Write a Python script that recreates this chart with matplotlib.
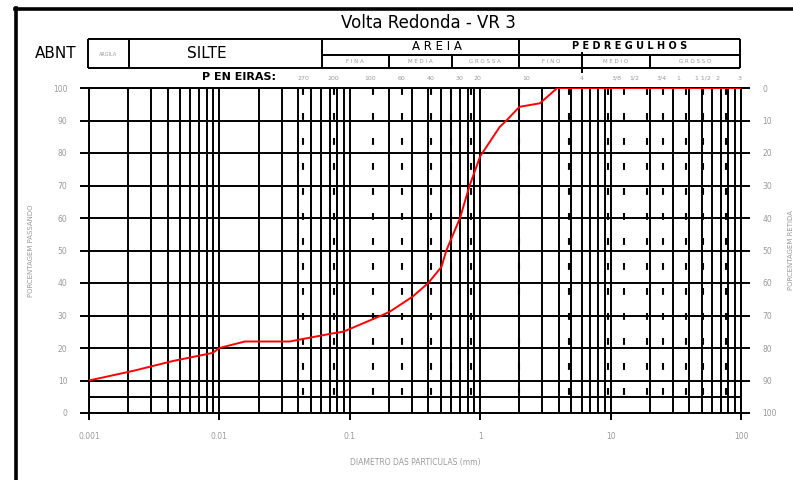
import numpy as np
import matplotlib
matplotlib.use("Agg")
import matplotlib.pyplot as plt

# Curva granulometrica (diametro em mm, % passando)
diametro = [0.001, 0.0022, 0.0044, 0.0089, 0.01, 0.0157, 0.0346, 0.044, 0.074, 0.089,
            0.175, 0.203, 0.303, 0.40, 0.505, 0.55, 0.70, 0.83, 1.0, 1.41, 1.59,
            2.0, 2.87, 3.9, 100]
passando = [10, 13, 16, 18.5, 20, 22, 22, 22.8, 24.5, 25,
            30, 31.2, 35.8, 40, 45, 50, 60, 70, 79, 88, 90,
            94.2, 95.3, 100, 100]

# Peneiras (abertura em mm) e rotulos
peneiras = [0.044, 0.075, 0.15, 0.25, 0.42, 0.6, 0.85, 2.0, 4.76, 9.5, 12.7, 19.1, 25.4, 38.1, 50.8, 76.2]
peneira_rotulos = ['270', '200', '100', '60', '40', '30', '20', '10', '4',
                   '3/8', '1/2', '3/4', '1', '1 1/2', '2', '3']
# onde os rotulos aparecem no grafico (mm)
rotulo_pos = [0.0438, 0.0743, 0.142, 0.25, 0.417, 0.697, 0.959, 2.27, 5.99,
              11.1, 15.3, 24.6, 33.2, 50.7, 66.1, 97.4]

x_ticks = [0.001, 0.01, 0.1, 1, 10, 100]
x_labels = ['0.001', '0.01', '0.1', '1', '10', '100']
y_ticks = list(range(0, 101, 10))

cinza = '#9a9a9a'
lw = 1.4

fig = plt.figure(figsize=(7.93, 4.80), dpi=100)

# camada de fundo em pixels para moldura e cabecalho
bg = fig.add_axes([0, 0, 1, 1])
bg.set_xlim(0, 793)
bg.set_ylim(480, 0)
bg.axis('off')

# moldura
bg.plot([16, 16], [8, 480], color='black', lw=2.6)
bg.plot([15, 793], [9, 9], color='black', lw=2.6)

bg.text(428, 23, 'Volta Redonda - VR 3', fontsize=12, ha='center', va='center')

# tabela ABNT
def linha(x, y):
    bg.plot(x, y, color='black', lw=lw, solid_capstyle='butt')

linha([88, 740], [39, 39])
linha([88, 740], [68, 68])
linha([322, 740], [55, 55])
for xv in [88, 129, 322, 519, 740]:
    linha([xv, xv], [39, 68])
for xv in [389, 452, 650]:
    linha([xv, xv], [55, 68])
linha([582, 582], [52, 73])

bg.text(56, 54, 'ABNT', fontsize=11, ha='center', va='center')
bg.text(108, 54, 'ARGILA', fontsize=3.5, color=cinza, ha='center', va='center')
bg.text(207, 54, 'SILTE', fontsize=11, ha='center', va='center')
bg.text(437, 47, 'A R E I A', fontsize=8.5, ha='center', va='center')
bg.text(630, 46, 'P E D R E G U L H O S', fontsize=7, fontweight='bold', ha='center', va='center')
for xc, t in [(355, 'F I N A'), (420, 'M É D I A'), (485, 'G R O S S A'),
              (551, 'F I N O'), (616, 'M É D I O'), (695, 'G R O S S O')]:
    bg.text(xc, 61.5, t, fontsize=4, color=cinza, ha='center', va='center')

bg.text(239, 77, 'P EN EIRAS:', fontsize=8, fontweight='bold', ha='center', va='center')

# eixos do grafico
ax = fig.add_axes([89 / 793, 67 / 480, 652 / 793, 325 / 480])
ax.set_xscale('log')
ax.set_xlim(0.001, 100)
ax.set_ylim(0, 100)
ax.patch.set_alpha(0)

# grade logaritmica
for k in range(-3, 2):
    for m in range(2, 10):
        ax.axvline(m * 10.0 ** k, color='black', lw=lw, zorder=1)
for xv in x_ticks:
    ax.axvline(xv, color='black', lw=lw, zorder=1)
for yv in y_ticks + [5]:
    ax.axhline(yv, color='black', lw=lw, zorder=1)

# peneiras tracejadas
for d in peneiras:
    ax.plot([d, d], [100, 0], color='black', lw=1.5, linestyle=(0, (3.3, 8.7)), zorder=1)

for xp, t in zip(rotulo_pos, peneira_rotulos):
    ax.text(xp, 1.0, t, transform=ax.get_xaxis_transform(), fontsize=4.5, color=cinza,
            ha='center', va='bottom', clip_on=False).set_y(1.022)

# curva
ax.plot(diametro, passando, color='red', lw=1.4, zorder=3)

for s in ax.spines.values():
    s.set_linewidth(lw)

ax.set_xticks(x_ticks)
ax.set_xticklabels(x_labels)
ax.minorticks_off()
ax.set_xticks([], minor=True)
ax.set_yticks(y_ticks)
ax.tick_params(axis='x', direction='out', length=5, width=lw, pad=9, labelsize=5.5, labelcolor=cinza)
ax.tick_params(axis='y', direction='out', length=6.5, width=lw, pad=9, labelsize=5.5, labelcolor=cinza)
ax.set_xlabel('DIAMETRO DAS PARTICULAS (mm)', fontsize=5.5, color=cinza, labelpad=12)
ax.set_ylabel('PORCENTAGEM PASSANDO', fontsize=5, color=cinza, labelpad=14)

ax2 = ax.twinx()
ax2.set_ylim(100, 0)
ax2.set_yticks(y_ticks)
ax2.tick_params(axis='y', direction='out', length=6.5, width=lw, pad=9, labelsize=5.5, labelcolor=cinza)
ax2.set_ylabel('PORCENTAGEM RETIDA', fontsize=5, color=cinza, labelpad=8)
for s in ax2.spines.values():
    s.set_visible(False)

fig.savefig('out.png', dpi=100)
